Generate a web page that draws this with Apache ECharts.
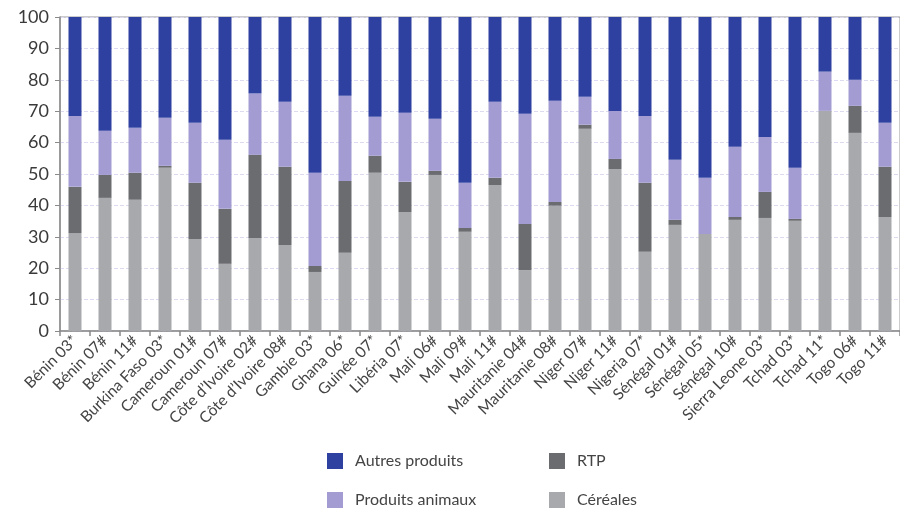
<!DOCTYPE html>
<html>
<head>
<meta charset="utf-8">
<script src="https://cdn.jsdelivr.net/npm/echarts@6/dist/echarts.min.js"></script>
<style>
  html, body { margin: 0; padding: 0; background: #fff; }
  #chart { width: 900px; height: 511px; }
</style>
</head>
<body>
<div id="chart"></div>
<script>
var categories = ['Bénin 03*', 'Bénin 07#', 'Bénin 11#', 'Burkina Faso 03*', 'Cameroun 01#', 'Cameroun 07#',
    'Côte d\u2019Ivoire 02#', 'Côte d\u2019Ivoire 08#', 'Gambie 03*', 'Ghana 06*', 'Guinée 07*', 'Libéria 07*',
    'Mali 06#', 'Mali 09#', 'Mali 11#', 'Mauritanie 04#', 'Mauritanie 08#', 'Niger 07#', 'Niger 11#',
    'Nigeria 07*', 'Sénégal 01#', 'Sénégal 05*', 'Sénégal 10#', 'Sierra Leone 03*', 'Tchad 03*',
    'Tchad 11*', 'Togo 06#', 'Togo 11#'];

// parts en %
var cereales = [31.2, 42.4, 41.8, 52.0, 29.3, 21.4, 29.6, 27.4, 18.8, 24.9, 50.4, 37.9, 49.7, 31.6,
    46.5, 19.4, 39.9, 64.4, 51.6, 25.2, 33.8, 30.9, 35.4, 36.0, 35.1, 70.1, 63.1, 36.3];
var rtp = [14.7, 7.3, 8.6, 0.6, 17.9, 17.5, 26.5, 24.9, 1.9, 22.9, 5.4, 9.6, 1.3, 1.2,
    2.3, 14.7, 1.2, 1.3, 3.2, 22.0, 1.6, 0, 0.9, 8.3, 0.6, 0, 8.6, 16.0];
var animaux = [22.6, 14.1, 14.3, 15.3, 19.1, 22.0, 19.5, 20.7, 29.7, 27.1, 12.4, 22.0, 16.6, 14.4,
    24.2, 35.1, 32.2, 8.9, 15.3, 21.3, 19.1, 17.9, 22.4, 17.5, 16.3, 12.5, 8.3, 14.0];
var autres = [31.5, 36.2, 35.3, 32.1, 33.7, 39.1, 24.4, 27.0, 49.6, 25.1, 31.8, 30.5, 32.4, 52.8,
    27.0, 30.8, 26.7, 25.4, 29.9, 31.5, 45.5, 51.2, 41.3, 38.2, 48.0, 17.4, 20.0, 33.7];
var yTicks = [0, 10, 20, 30, 40, 50, 60, 70, 80, 90, 100];

var colors = {
    'Céréales': '#a8a9ad',
    'RTP': '#6b6c70',
    'Produits animaux': '#a29cd2',
    'Autres produits': '#2f41a0'
};

var chart = echarts.init(document.getElementById('chart'));

function makeSerie(name, data) {
    return {
        name: name,
        type: 'bar',
        stack: 'total',
        barWidth: 13,
        itemStyle: { color: colors[name] },
        data: data
    };
}

function makeLegend(name, left, top) {
    return {
        data: [name],
        left: left,
        top: top,
        padding: 0,
        itemWidth: 16,
        itemHeight: 16,
        icon: 'rect',
        textStyle: {
            fontFamily: 'Lato',
            fontSize: 16,
            color: '#444',
            padding: [0, 0, 0, 7]
        }
    };
}

var option = {
    animation: false,
    textStyle: { fontFamily: 'Lato' },
    legend: [
        makeLegend('Autres produits', 327, 453),
        makeLegend('RTP', 549, 453),
        makeLegend('Produits animaux', 327, 492),
        makeLegend('Céréales', 549, 492)
    ],
    grid: {
        left: 60,
        top: 17,
        width: 841,
        height: 314,
        show: true,
        borderColor: '#999',
        borderWidth: 1,
        containLabel: false
    },
    xAxis: {
        type: 'category',
        data: categories,
        boundaryGap: true,
        axisLine: { lineStyle: { color: '#8a8a8a', width: 1.5 } },
        axisTick: { show: true, length: 5, lineStyle: { color: '#8a8a8a', width: 1.5 } },
        axisLabel: {
            interval: 0,
            rotate: 45,
            fontSize: 15.5,
            color: '#444',
            margin: 7
        }
    },
    yAxis: {
        type: 'value',
        min: 0,
        max: yTicks[yTicks.length - 1],
        interval: yTicks[1] - yTicks[0],
        axisLine: { show: true, lineStyle: { color: '#8a8a8a', width: 1.5 } },
        axisTick: { show: true, length: 5, lineStyle: { color: '#8a8a8a' } },
        axisLabel: { fontSize: 18, color: '#3a3a3a', margin: 11 },
        splitLine: { lineStyle: { color: '#dcdaf0', type: 'dashed', width: 1 } }
    },
    series: [
        makeSerie('Céréales', cereales),
        makeSerie('RTP', rtp),
        makeSerie('Produits animaux', animaux),
        makeSerie('Autres produits', autres)
    ]
};

chart.setOption(option);
</script>
</body>
</html>
